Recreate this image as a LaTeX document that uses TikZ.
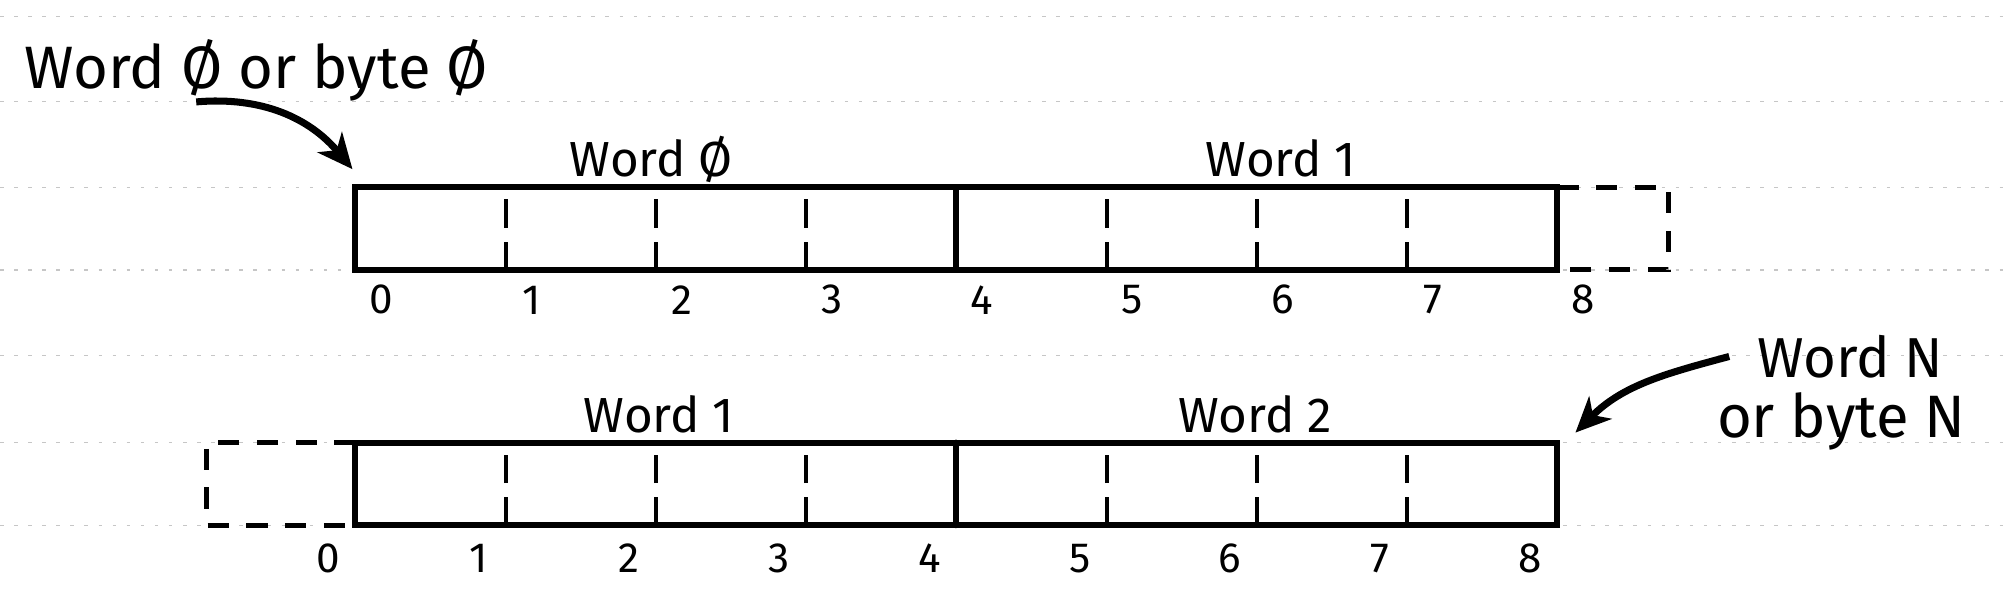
\documentclass[tikz,border=0pt]{standalone}
\usepackage{fontspec}
\setmainfont{Fira Sans}
\usetikzlibrary{arrows.meta, positioning}

\begin{document}
\begin{tikzpicture}[
    x=1.5cm,
    y=1.5cm,
    >=Stealth,
    thick,
    frame/.style={line width=1.7pt, line cap=round},
    divider/.style={line width=1.1pt, dash pattern=on 8pt off 4pt},
    ghost/.style={line width=1.4pt, dash pattern=on 6pt off 5pt},
    ruled/.style={gray!45, line width=0.4pt, dash pattern=on 1pt off 3pt},
    pointer/.style={-{Stealth[length=10pt, width=9pt, inset=3pt]}, line width=2pt},
    byte/.style={font=\fontsize{12}{14}\selectfont},
    word/.style={font=\fontsize{14}{16}\selectfont, anchor=base},
    note/.style={font=\fontsize{17}{20}\selectfont, anchor=base}
]

\useasboundingbox (-2.366,-2.128) rectangle (10.979,1.796);

% Row edges
\def\h{0.55}
\def\bTop{-1.15}
\def\bBot{-1.7}

% Notebook lines
\foreach \ly in {1.685, 1.12, 0.55, 0, -0.57, -1.15, -1.7}
    \draw[ruled] (-2.366,\ly) -- (10.979,\ly);

% =========================
% Aligned words
% =========================
\draw[frame] (0,0) rectangle (8,\h);
\draw[frame] (4,0) -- (4,\h);
\foreach \i in {1,2,3,5,6,7}
    \draw[divider] (\i,0) -- (\i,\h);
\draw[ghost] (8,\h) -- (8.74,\h) -- (8.74,0) -- (8,0);

\foreach \i in {0,...,8}
    \node[byte] (ta\i) at (\i+0.17,-0.2) {\i};

\node[word] (wa0) at (1.97,0.62) {Word Ø};
\node[word] (wa1) at (6.16,0.62) {Word 1};

\coordinate (cornerA) at (0,\h);

% =========================
% Shifted words
% =========================
\draw[frame] (0,\bBot) rectangle (8,\bTop);
\draw[frame] (4,\bBot) -- (4,\bTop);
\foreach \i in {1,2,3,5,6,7}
    \draw[divider] (\i,\bBot) -- (\i,\bTop);
\draw[ghost] (0,\bTop) -- (-0.99,\bTop) -- (-0.99,\bBot) -- (0,\bBot);

\foreach \i in {0,...,8}
    \node[byte] (tb\i) at (\i-0.18,-1.92) {\i};

\node[word] (wb1) at (2.02,-1.08) {Word 1};
\node[word] (wb2) at (5.99,-1.08) {Word 2};

\coordinate (cornerB) at (8,\bTop);

% =========================
% Notes
% =========================
\node[note] (note0) at (-0.66,1.21) {Word Ø or byte Ø};
\node[word, font=\fontsize{16}{18}\selectfont] (noteN) at (9.95,-0.715) {Word N};
\node[note] (noteNb) at (9.89,-1.115) {or byte N};

\draw[pointer] ([xshift=-0.6cm, yshift=0.12cm]note0.south)
    to[out=5, in=130] ([xshift=-0.03cm, yshift=0.18cm]cornerA);
\draw[pointer] ([xshift=-0.15cm]noteN.west)
    to[out=195, in=45] ([xshift=0.18cm, yshift=0.1cm]cornerB);

\end{tikzpicture}
\end{document}
